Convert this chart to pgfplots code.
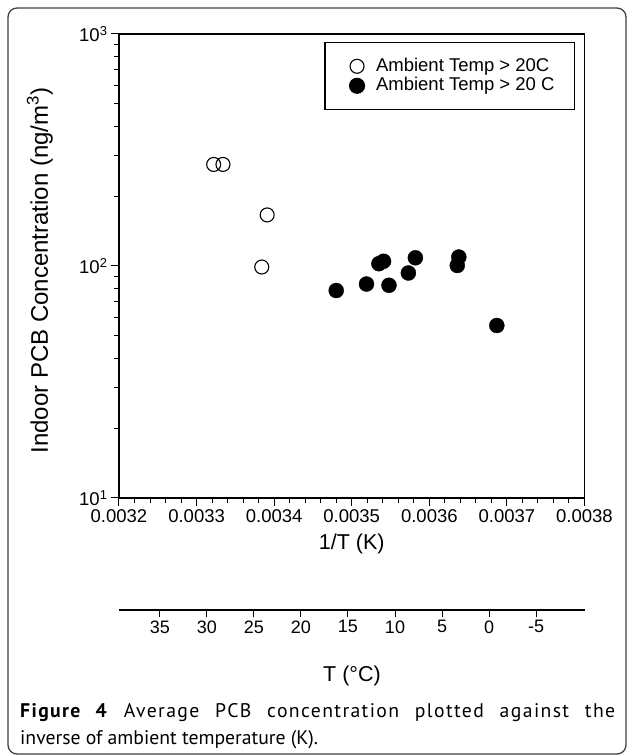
\documentclass[border=0pt]{standalone}
\usepackage{pgfplots}
\pgfplotsset{compat=1.18}
\usepackage{fontspec}
\setmainfont{Liberation Sans}
\newfontfamily\capfont{PT Sans}

\begin{document}
\begin{tikzpicture}
% main plot: concentration vs 1/T
\begin{axis}[
    at={(0pt,0pt)}, anchor=south west,
    scale only axis, width=465.5pt, height=464pt,
    ymode=log,
    xmin=0.0032, xmax=0.0038, ymin=10, ymax=1000,
    scaled x ticks=false,
    xtick={0.0032,0.0033,0.0034,0.0035,0.0036,0.0037,0.0038},
    xticklabels={0.0032,0.0033,0.0034,0.0035,0.0036,0.0037,0.0038},
    minor x tick num=4,
    ytick={10,100,1000},
    yticklabels={10\textsuperscript{1},10\textsuperscript{2},10\textsuperscript{3}},
    tick align=outside, xtick pos=bottom, ytick pos=left,
    major tick length=8pt, minor tick length=5pt,
    axis line style={line width=1.2pt},
    every tick/.style={black, line width=1pt},
    tick label style={font=\fontsize{18.5}{21}\selectfont},
    xlabel={1/T (K)},
    xlabel style={at={(axis description cs:0.5,-0.099)}, anchor=center,
        font=\fontsize{21.5}{25}\selectfont},
    ylabel={Indoor PCB Concentration (ng/m\textsuperscript{3})},
    ylabel style={at={(axis description cs:-0.17,0.49)}, anchor=center,
        font=\fontsize{24}{27}\selectfont},
    legend cell align=left,
    legend image code/.code={
        \path[draw=none,fill=none] (0pt,0pt) -- (31pt,0pt);
        \draw[only marks,#1] plot coordinates {(14pt,0pt)};},
    legend style={at={(1,1)}, anchor=north east, xshift=-9.5pt, yshift=-8pt,
        draw=black, line width=1.1pt, inner xsep=18pt, inner ysep=14pt,
        font=\fontsize{18.5}{21}\selectfont,
        nodes={inner ysep=1pt, text height=13.5pt, text depth=4pt}},
]
\addplot[only marks, mark=o, mark size=7pt, line width=1.1pt, black] coordinates {
    (0.003322,274) (0.003334,274) (0.003391,166) (0.003384,99)
};
\addplot[only marks, mark=*, mark size=7.5pt, black] coordinates {
    (0.003480,78.4) (0.003519,83.6) (0.003535,102.3) (0.003541,104.8)
    (0.003548,82.6) (0.003582,108.5) (0.003573,93.3) (0.003638,109.3)
    (0.003636,100.5) (0.003687,55.4)
};
\legend{Ambient Temp > 20C, Ambient Temp > 20 C}
\end{axis}

% secondary temperature scale
\begin{axis}[
    at={(0pt,-112pt)}, anchor=south west,
    scale only axis, width=466pt, height=10pt,
    axis x line*=bottom, axis y line=none,
    axis line style={-, line width=1.3pt},
    xmin=-10.21, xmax=39.36, ymin=0, ymax=1, x dir=reverse,
    xtick={-5,0,5,10,15,20,25,30,35},
    xticklabels={-5,0,5,10,15,20,25,30,35},
    ytick=\empty,
    tick align=outside, major tick length=7pt,
    every tick/.style={black, line width=1pt},
    tick label style={font=\fontsize{18}{21}\selectfont},
    xlabel={T (°C)},
    xlabel style={at={(axis description cs:0.5,0)}, anchor=center, yshift=-66pt,
        font=\fontsize{21.5}{25}\selectfont},
]
\end{axis}

\node[anchor=base west, inner sep=0pt, text width=595pt, align=justify,
      font=\capfont\fontsize{19.7}{27}\selectfont] at (-99pt,-219pt)
    {{\addfontfeatures{LetterSpace=7}\textbf{Figure 4} Average PCB concentration plotted against the}\linebreak inverse of ambient temperature (K).};

\draw[rounded corners=9pt, line width=1.3pt, black!75] (-111pt,490pt) rectangle (507pt,-256pt);

\pgfresetboundingbox
\useasboundingbox (-119pt,498pt) rectangle (508pt,-257pt);
\end{tikzpicture}
\end{document}
